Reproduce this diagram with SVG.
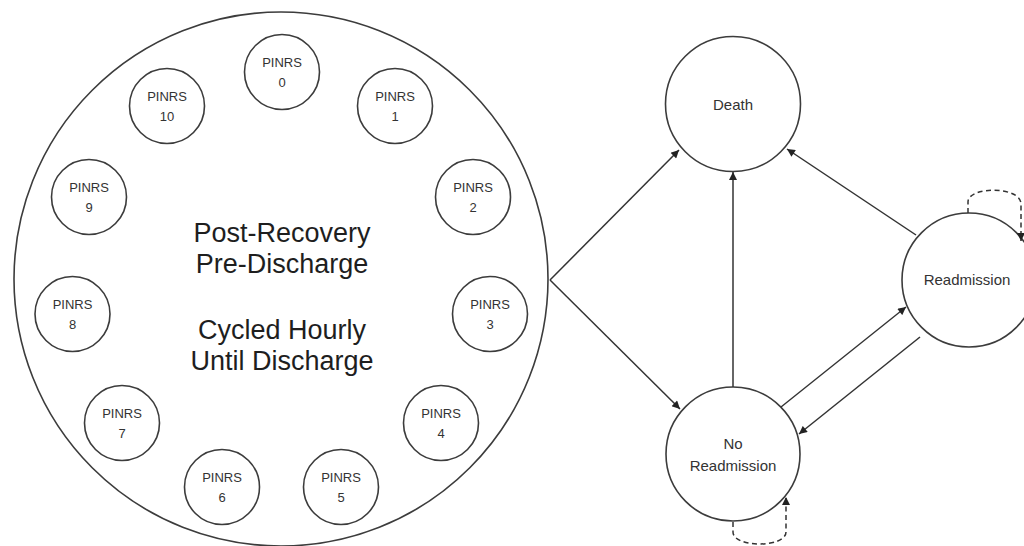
<svg xmlns="http://www.w3.org/2000/svg" width="1024" height="546" viewBox="0 0 1024 546">
<style>
  .node { fill: #ffffff; stroke: #3c3c3c; stroke-width: 1.6; }
  .small { font-family: "Liberation Sans", Arial, sans-serif; font-size: 13px; fill: #333333; text-anchor: middle; }
  .big { font-family: "Liberation Sans", Arial, sans-serif; font-size: 27px; fill: #1e1e1e; text-anchor: middle; }
  .state { font-family: "Liberation Sans", Arial, sans-serif; font-size: 15px; fill: #333333; text-anchor: middle; }
  .edge { fill: none; stroke: #333333; stroke-width: 1.5; marker-end: url(#arrow); }
  .dashed { stroke-dasharray: 5 3.5; }
</style>
<defs>
  <marker id="arrow" viewBox="0 0 10 10" refX="10" refY="5" markerWidth="9" markerHeight="8" markerUnits="userSpaceOnUse" orient="auto">
    <path d="M0,0 L10,5 L0,10 z" fill="#222222"/>
  </marker>
</defs>
<rect width="1024" height="546" fill="#ffffff"/>

<g id="post-recovery">
  <circle class="node" cx="281" cy="279" r="267"/>
  <text class="big" x="282" y="242">Post-Recovery</text>
  <text class="big" x="282" y="273">Pre-Discharge</text>
  <text class="big" x="282" y="339">Cycled Hourly</text>
  <text class="big" x="282" y="370">Until Discharge</text>
</g>

<g id="pinrs0"><circle class="node" cx="282" cy="72" r="37.5"/><text class="small" x="282" y="67">PINRS</text><text class="small" x="282" y="87">0</text></g>
<g id="pinrs1"><circle class="node" cx="395" cy="106" r="37.5"/><text class="small" x="395" y="101">PINRS</text><text class="small" x="395" y="121">1</text></g>
<g id="pinrs2"><circle class="node" cx="473" cy="197" r="37.5"/><text class="small" x="473" y="192">PINRS</text><text class="small" x="473" y="212">2</text></g>
<g id="pinrs3"><circle class="node" cx="490" cy="314" r="37.5"/><text class="small" x="490" y="309">PINRS</text><text class="small" x="490" y="329">3</text></g>
<g id="pinrs4"><circle class="node" cx="441" cy="423" r="37.5"/><text class="small" x="441" y="418">PINRS</text><text class="small" x="441" y="438">4</text></g>
<g id="pinrs5"><circle class="node" cx="341" cy="487" r="37.5"/><text class="small" x="341" y="482">PINRS</text><text class="small" x="341" y="502">5</text></g>
<g id="pinrs6"><circle class="node" cx="222" cy="487" r="37.5"/><text class="small" x="222" y="482">PINRS</text><text class="small" x="222" y="502">6</text></g>
<g id="pinrs7"><circle class="node" cx="122" cy="423" r="37.5"/><text class="small" x="122" y="418">PINRS</text><text class="small" x="122" y="438">7</text></g>
<g id="pinrs8"><circle class="node" cx="72.5" cy="314" r="37.5"/><text class="small" x="72.5" y="309">PINRS</text><text class="small" x="72.5" y="329">8</text></g>
<g id="pinrs9"><circle class="node" cx="89" cy="197" r="37.5"/><text class="small" x="89" y="192">PINRS</text><text class="small" x="89" y="212">9</text></g>
<g id="pinrs10"><circle class="node" cx="167" cy="106" r="37.5"/><text class="small" x="167" y="101">PINRS</text><text class="small" x="167" y="121">10</text></g>

<g id="death">
  <circle class="node" cx="733" cy="104" r="67.5"/>
  <text class="state" x="733" y="109.5">Death</text>
</g>

<g id="readmission">
  <circle class="node" cx="969" cy="280" r="67"/>
  <text class="state" x="967" y="285">Readmission</text>
</g>

<g id="no-readmission">
  <circle class="node" cx="733" cy="454" r="67"/>
  <text class="state" x="733" y="448.5">No</text>
  <text class="state" x="733" y="471">Readmission</text>
</g>

<g id="connectors">
  <path class="edge" d="M550,280 L679,150"/>
  <path class="edge" d="M550,280 L680,409"/>
  <path class="edge" d="M733,387 L733,172"/>
  <path class="edge" d="M916,235 L787,149"/>
  <path class="edge" d="M781,407 L906,307"/>
  <path class="edge" d="M920,337 L799,434"/>
  <path class="edge dashed" d="M968,213 V202 C968,186 1021,186 1021,204 V241"/>
  <path class="edge dashed" d="M733,522 V532 C733,548 786,548 786,532 V497"/>
</g>
</svg>
